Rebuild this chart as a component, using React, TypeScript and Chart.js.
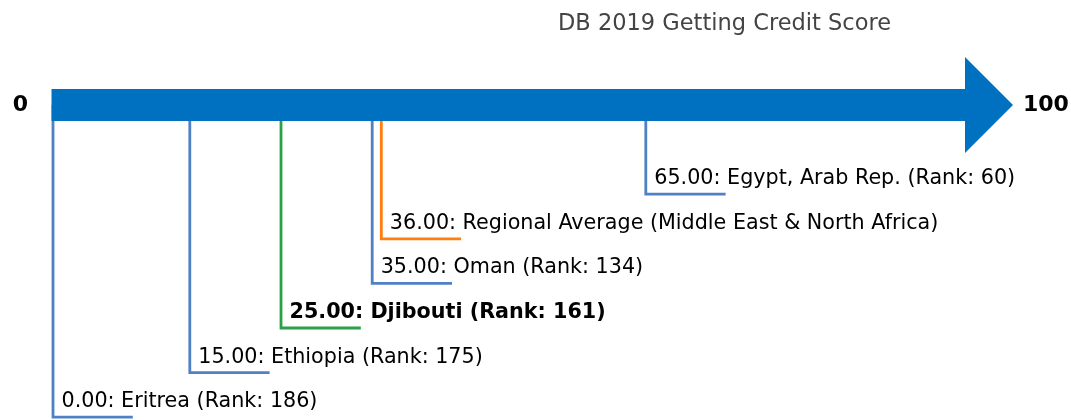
import React, { useEffect, useRef } from "react";
import { Chart, registerables } from "chart.js";

Chart.register(...registerables);

const TITLE = "DB 2019 Getting Credit Score";
const NAMES = [
  "Eritrea",
  "Ethiopia",
  "Djibouti",
  "Oman",
  "Regional Average (Middle East & North Africa)",
  "Egypt, Arab Rep.",
];
const SCORES = [0, 15, 25, 35, 36, 65];
const RANKS: (number | null)[] = [186, 175, 161, 134, null, 60];
const ROWS = [7, 6, 5, 4, 3, 2];
const KINDS = ["peer", "peer", "focus", "peer", "region", "peer"];
const AXIS_MIN = 0;
const AXIS_MAX = 100;
const AXIS_LABELS = ["0", "100"];

const COLORS: Record<string, string> = {
  peer: "#4f81c4",
  focus: "#2ca048",
  region: "#ff7f0e",
};
const TAIL = 8.75;

export default function App() {
  const ref = useRef<HTMLCanvasElement>(null);

  useEffect(() => {
    if (!ref.current) return;
    const datasets = SCORES.map((s, i) => ({
      label: NAMES[i],
      data: [
        { x: s, y: 0 },
        { x: s, y: ROWS[i] },
        { x: s + TAIL, y: ROWS[i] },
      ],
      showLine: true,
      clip: false as any,
      borderColor: COLORS[KINDS[i]],
      borderWidth: 2.8,
      pointRadius: 0,
      tension: 0,
      borderJoinStyle: "miter" as const,
      borderCapStyle: "butt" as const,
      fill: false,
    }));

    const overlay = {
      id: "overlay",
      afterDatasetsDraw(chart: any) {
        const ctx = chart.ctx;
        const xs = chart.scales.x;
        const ys = chart.scales.y;
        const x0 = xs.getPixelForValue(AXIS_MIN);
        const x1 = xs.getPixelForValue(AXIS_MAX);
        const yc = ys.getPixelForValue(0);
        ctx.save();
        // arrow body
        ctx.fillStyle = "#0070c0";
        ctx.fillRect(x0 - 1.5, yc - 16, x1 - x0 + 1.5, 32);
        // arrow head
        ctx.beginPath();
        ctx.moveTo(x1, yc - 48);
        ctx.lineTo(x1 + 48, yc);
        ctx.lineTo(x1, yc + 48);
        ctx.closePath();
        ctx.fill();

        // end labels
        ctx.fillStyle = "#000";
        ctx.font = "bold 22px 'DejaVu Sans'";
        ctx.textBaseline = "middle";
        ctx.textAlign = "right";
        ctx.fillText(AXIS_LABELS[0], x0 - 25, yc);
        ctx.textAlign = "left";
        ctx.fillText(AXIS_LABELS[1], x1 + 58, yc);

        // title
        ctx.fillStyle = "#444";
        ctx.font = "22.5px 'DejaVu Sans'";
        ctx.textAlign = "center";
        ctx.textBaseline = "alphabetic";
        ctx.fillText(TITLE, 724.5, 30);

        // point labels
        ctx.textAlign = "left";
        SCORES.forEach((s, i) => {
          const px = xs.getPixelForValue(s);
          const py = ys.getPixelForValue(ROWS[i]);
          const txt =
            s.toFixed(2) + ": " + NAMES[i] + (RANKS[i] != null ? " (Rank: " + RANKS[i] + ")" : "");
          ctx.font = (KINDS[i] === "focus" ? "bold " : "") + "20.7px 'DejaVu Sans'";
          ctx.fillStyle = "#000";
          ctx.fillText(txt, px + 8.5, py - 10);
        });
        ctx.restore();
      },
    };

    const chart = new Chart(ref.current, {
      type: "scatter",
      data: { datasets },
      options: {
        animation: false,
        responsive: false,
        devicePixelRatio: 1,
        layout: { padding: { left: 53, right: 106, top: 0, bottom: 0 } },
        plugins: { legend: { display: false }, tooltip: { enabled: false } },
        scales: {
          x: { type: "linear", min: AXIS_MIN, max: AXIS_MAX, display: false },
          y: { type: "linear", min: -2.354, max: 7.063, reverse: true, display: false },
        },
      },
      plugins: [overlay],
    });
    return () => chart.destroy();
  }, []);

  return (
    <div style={{ position: "fixed", left: 0, top: 0, width: 1071, height: 420, background: "#fff" }}>
      <canvas ref={ref} width={1071} height={420} />
    </div>
  );
}
